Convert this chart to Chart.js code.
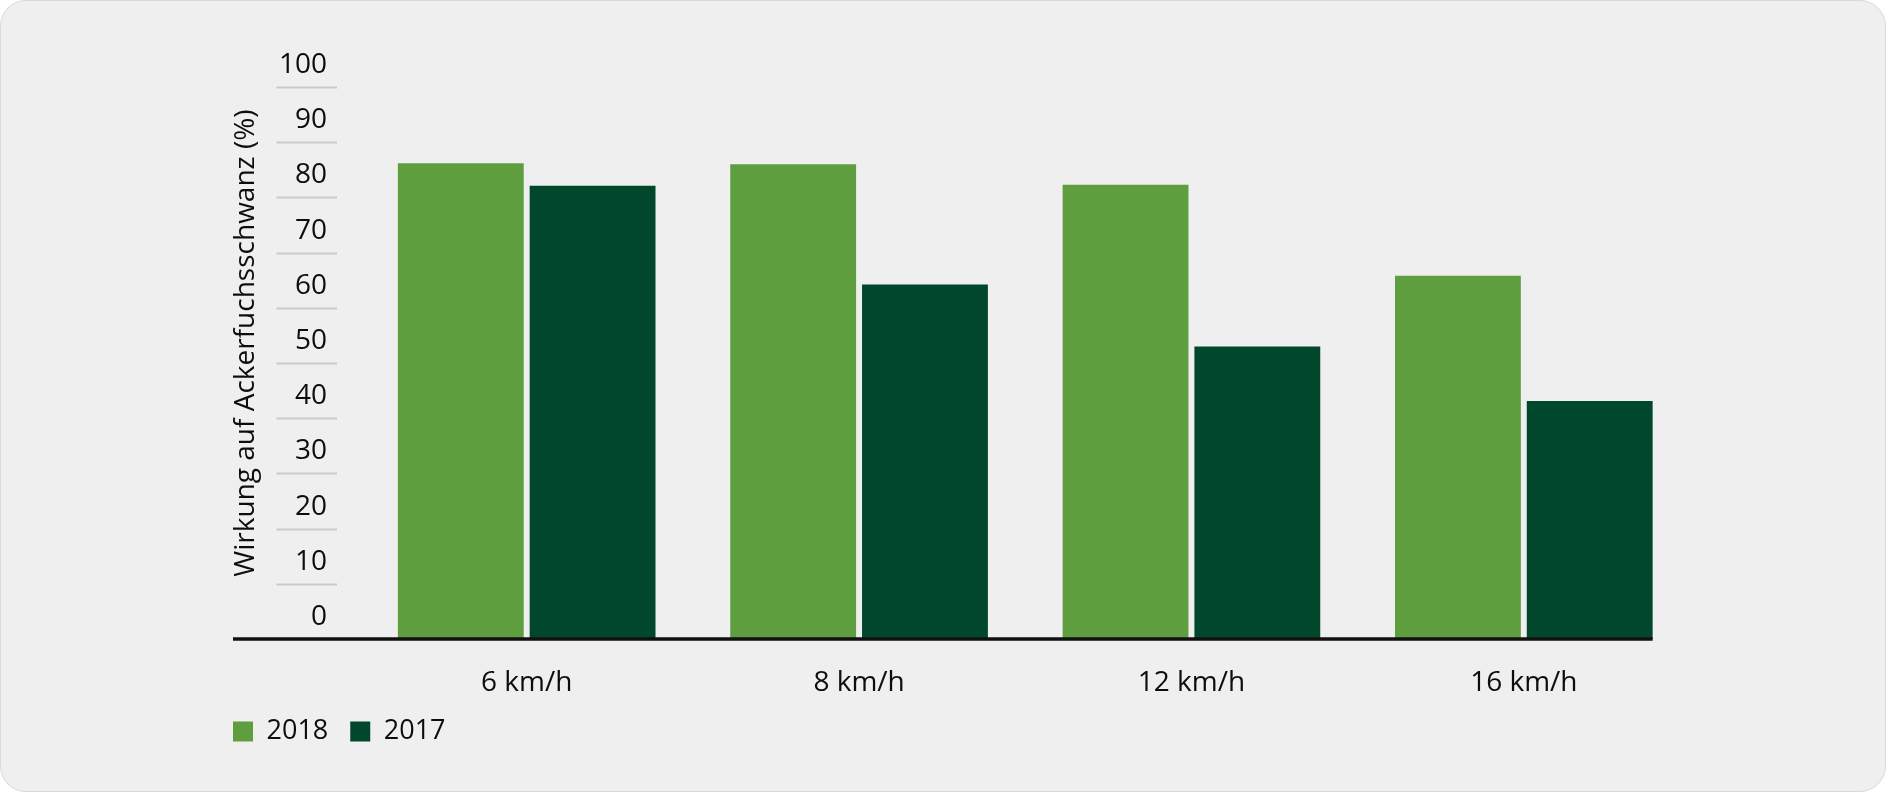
<!DOCTYPE html>
<html>
<head>
<meta charset="utf-8">
<script src="https://cdn.jsdelivr.net/npm/chart.js@4.4.1/dist/chart.umd.min.js"></script>
<style>
  html, body { margin: 0; padding: 0; background: #ffffff; }
  .card {
    position: relative;
    width: 1886px;
    height: 792px;
    box-sizing: border-box;
    background: #efefef;
    border: 1.5px solid #d9d9d9;
    border-radius: 26px;
  }
  .card canvas { position: absolute; left: 0; top: 0; }
</style>
</head>
<body>
<div class="card">
  <canvas id="bar-chart"></canvas>
</div>
<script>
const categories = ['6 km/h', '8 km/h', '12 km/h', '16 km/h'];
const values2018 = [86.2, 86.0, 82.3, 65.8];
const values2017 = [82.1, 64.2, 53.0, 43.1];
const yMin = 0;
const yMax = 100;
const yStep = 10;
const yTitle = 'Wirkung auf Ackerfuchsschwanz (%)';

const FONT = "'Open Sans', 'Noto Sans', sans-serif";
const TEXT = '#0d0d0d';

// short grey tick lines left of the plot, the black zero line and the y title
const axisDecor = {
  id: 'axisDecor',
  afterDatasetsDraw(chart) {
    const ctx = chart.ctx;
    const y = chart.scales.y;
    const area = chart.chartArea;
    ctx.save();
    ctx.strokeStyle = '#cdc9c9';
    ctx.lineWidth = 2;
    y.ticks.forEach(t => {
      if (t.value <= yMin) return;
      const py = Math.round(y.getPixelForValue(t.value)) + 0.5;
      ctx.beginPath();
      ctx.moveTo(y.right - 84, py);
      ctx.lineTo(y.right - 23.5, py);
      ctx.stroke();
    });
    const meta = chart.getDatasetMeta(1);
    const last = meta.data[meta.data.length - 1];
    const y0 = y.getPixelForValue(0);
    ctx.strokeStyle = '#111111';
    ctx.lineWidth = 3.5;
    ctx.beginPath();
    ctx.moveTo(y.left + 22, y0);
    ctx.lineTo(last.x + last.width / 2, y0);
    ctx.stroke();

    // axis title sits a bit above the middle of the plot
    ctx.translate(y.left + 35, (area.top + area.bottom) / 2 - 20);
    ctx.rotate(-Math.PI / 2);
    ctx.fillStyle = TEXT;
    ctx.font = '28px ' + FONT;
    ctx.textAlign = 'center';
    ctx.textBaseline = 'middle';
    ctx.fillText(yTitle, 0, 0);
    ctx.restore();
  }
};

new Chart(document.getElementById('bar-chart'), {
  type: 'bar',
  data: {
    labels: categories,
    datasets: [
      {
        label: '2018',
        data: values2018,
        backgroundColor: '#5f9e3e',
        borderWidth: 0,
        categoryPercentage: 0.793,
        barPercentage: 0.955
      },
      {
        label: '2017',
        data: values2017,
        backgroundColor: '#00472b',
        borderWidth: 0,
        categoryPercentage: 0.793,
        barPercentage: 0.955
      }
    ]
  },
  options: {
    responsive: true,
    maintainAspectRatio: false,
    animation: false,
    layout: {
      padding: { left: 210, right: 195, top: 86, bottom: 36 }
    },
    plugins: {
      tooltip: { enabled: false },
      legend: {
        position: 'bottom',
        align: 'start',
        labels: {
          boxWidth: 20,
          boxHeight: 20,
          padding: 22,
          color: TEXT,
          font: { family: FONT, size: 27 }
        }
      }
    },
    scales: {
      x: {
        grid: { display: false },
        border: { display: false },
        afterFit(scale) { scale.height = 57; },
        ticks: {
          color: TEXT,
          padding: 19,
          font: { family: FONT, size: 28 }
        }
      },
      y: {
        min: yMin,
        max: yMax,
        grid: { display: false },
        border: { display: false },
        afterFit(scale) { scale.width = 149.5; },
        ticks: {
          stepSize: yStep,
          color: TEXT,
          padding: 25.5,
          labelOffset: -22,
          font: { family: FONT, size: 28 }
        }
      }
    }
  },
  plugins: [axisDecor]
});
</script>
</body>
</html>
